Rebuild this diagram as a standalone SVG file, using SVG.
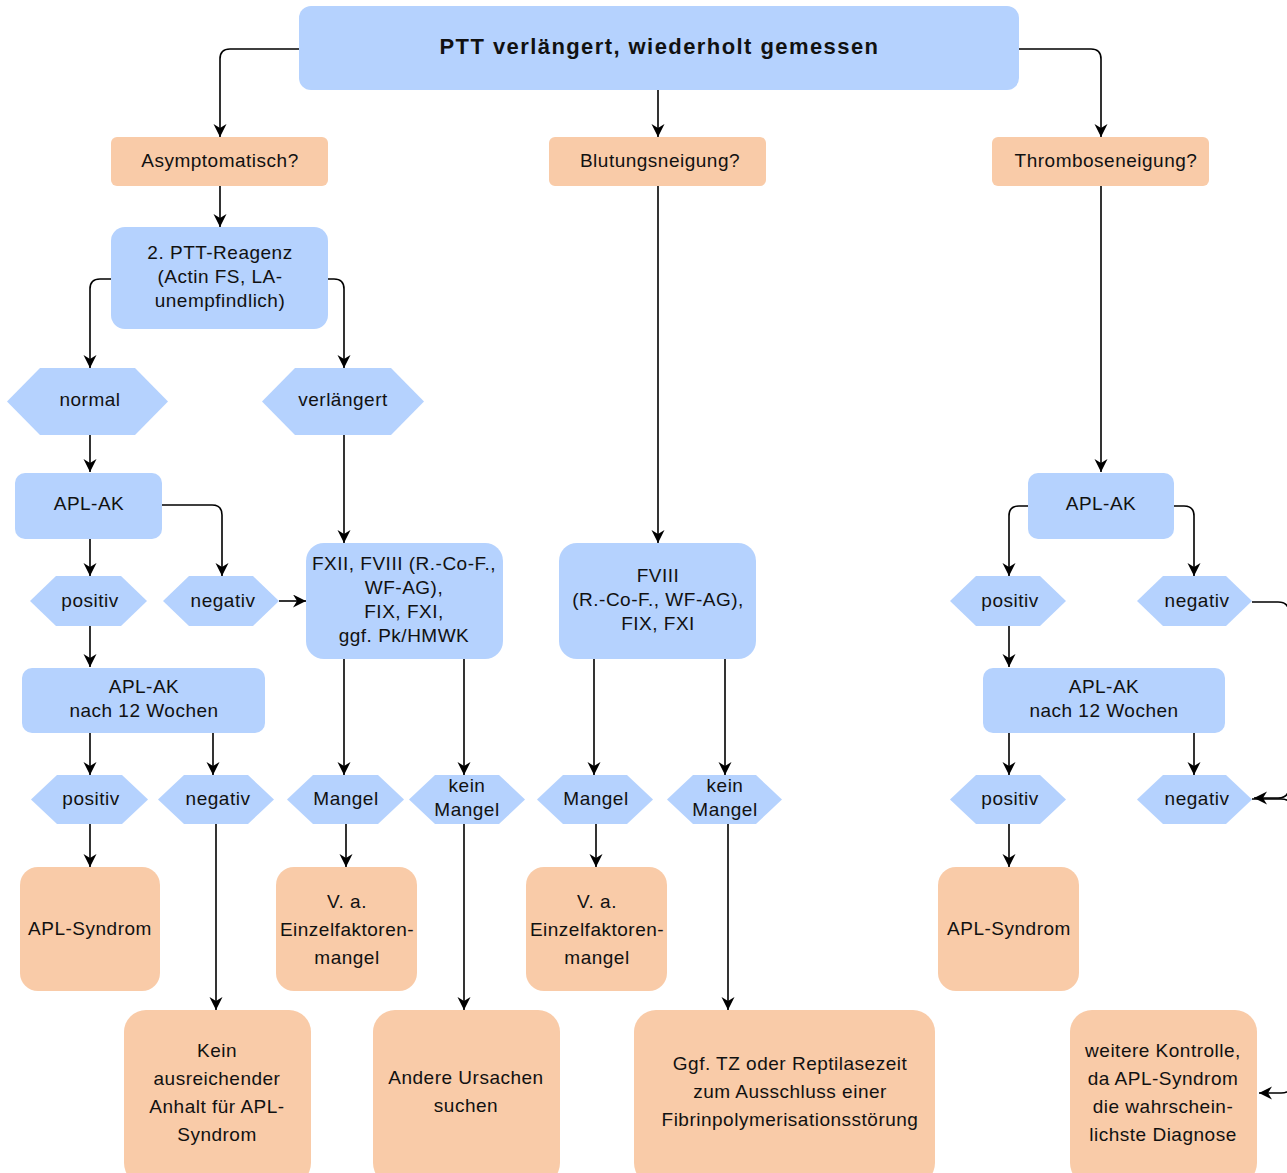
<svg xmlns="http://www.w3.org/2000/svg" width="1287" height="1173" viewBox="0 0 1287 1173">
<defs>
<marker id="arr" markerUnits="userSpaceOnUse" markerWidth="16" markerHeight="14" refX="13" refY="6.5" orient="auto">
<path d="M0,0 L13,6.5 L0,13 L4,6.5 Z" fill="#000"/>
</marker>
</defs>
<style>
.b{fill:#b5d2fe}
.o{fill:#f9cba8}
text{font-family:"Liberation Sans",Arial,sans-serif;font-size:19px;fill:#111;text-anchor:middle;letter-spacing:0.5px}
.t{font-weight:bold;font-size:22px}
#connectors path{fill:none;stroke:#000;stroke-width:1.6;marker-end:url(#arr)}
</style>
<rect width="1287" height="1173" fill="#fff"/>

<g id="connectors">
<path d="M299,49 H230 Q220,49 220,59 V137"/>
<path d="M658,90 V137"/>
<path d="M1019,49 H1091 Q1101,49 1101,59 V137"/>
<path d="M220,186 V227"/>
<path d="M111,279 H100 Q90,279 90,289 V368"/>
<path d="M328,279 H334 Q344,279 344,289 V368"/>
<path d="M90,435 V472"/>
<path d="M162,505 H212 Q222,505 222,515 V576"/>
<path d="M90,539 V576"/>
<path d="M279,601 H306"/>
<path d="M344,435 V543"/>
<path d="M90,626 V667"/>
<path d="M90,733 V775"/>
<path d="M213,733 V775"/>
<path d="M90,824 V867"/>
<path d="M216,824 V1010"/>
<path d="M344,659 V775"/>
<path d="M464,659 V775"/>
<path d="M346,824 V867"/>
<path d="M464,824 V1010"/>
<path d="M658,186 V543"/>
<path d="M594,659 V775"/>
<path d="M725,659 V775"/>
<path d="M596,824 V867"/>
<path d="M728,824 V1010"/>
<path d="M1101,186 V472"/>
<path d="M1028,506 H1019 Q1009,506 1009,516 V576"/>
<path d="M1174,506 H1184 Q1194,506 1194,516 V576"/>
<path d="M1009,626 V667"/>
<path d="M1009,733 V775"/>
<path d="M1194,733 V775"/>
<path d="M1009,824 V867"/>
<path d="M1252,602 H1278 Q1289,602 1289,613 V787 Q1289,798 1278,798 H1254"/>
<path d="M1252,799 H1281 Q1292,799 1292,810 V1082 Q1292,1093 1281,1093 H1259"/>
</g>

<g id="n-top"><rect class="b" x="299" y="6" width="720" height="84" rx="12"/><text class="t" x="659" y="54" textLength="439" lengthAdjust="spacing">PTT verlängert, wiederholt gemessen</text></g>

<g id="n-asym"><rect class="o" x="111" y="137" width="217" height="49" rx="6"/><text x="220" y="167">Asymptomatisch?</text></g>
<g id="n-blut"><rect class="o" x="549" y="137" width="217" height="49" rx="6"/><text x="660" y="167">Blutungsneigung?</text></g>
<g id="n-thromb"><rect class="o" x="992" y="137" width="217" height="49" rx="6"/><text x="1106" y="167">Thromboseneigung?</text></g>

<g id="n-ptt2"><rect class="b" x="111" y="227" width="217" height="102" rx="14"/><text x="220" y="259">2. PTT-Reagenz</text><text x="220" y="283">(Actin FS, LA-</text><text x="220" y="307">unempfindlich)</text></g>

<g id="n-normal"><polygon class="b" points="7,401.5 40,368 135,368 168,401.5 135,435 40,435"/><text x="90" y="406">normal</text></g>
<g id="n-verl"><polygon class="b" points="262,401.5 295,368 391,368 424,401.5 391,435 295,435"/><text x="343" y="406">verlängert</text></g>

<g id="n-aplak1"><rect class="b" x="15" y="473" width="147" height="66" rx="10"/><text x="89" y="510">APL-AK</text></g>

<g id="n-pos1"><polygon class="b" points="30,601 56,576 121,576 147,601 121,626 56,626"/><text x="90" y="607">positiv</text></g>
<g id="n-neg1"><polygon class="b" points="163,601 189,576 253,576 279,601 253,626 189,626"/><text x="223" y="607">negativ</text></g>

<g id="n-fxii"><rect class="b" x="306" y="543" width="197" height="116" rx="18"/><text x="404" y="570">FXII, FVIII (R.-Co-F.,</text><text x="404" y="594">WF-AG),</text><text x="404" y="618">FIX, FXI,</text><text x="404" y="642">ggf. Pk/HMWK</text></g>

<g id="n-fviii"><rect class="b" x="559" y="543" width="197" height="116" rx="18"/><text x="658" y="582">FVIII</text><text x="658" y="606">(R.-Co-F., WF-AG),</text><text x="658" y="630">FIX, FXI</text></g>

<g id="n-apl12a"><rect class="b" x="22" y="668" width="243" height="65" rx="10"/><text x="144" y="693">APL-AK</text><text x="144" y="717">nach 12 Wochen</text></g>

<g id="n-pos2"><polygon class="b" points="31,799.5 57,775 122,775 148,799.5 122,824 57,824"/><text x="91" y="805">positiv</text></g>
<g id="n-neg2"><polygon class="b" points="158,799.5 184,775 248,775 274,799.5 248,824 184,824"/><text x="218" y="805">negativ</text></g>
<g id="n-mangel1"><polygon class="b" points="287,799.5 313,775 378,775 404,799.5 378,824 313,824"/><text x="346" y="805">Mangel</text></g>
<g id="n-kein1"><polygon class="b" points="409,799.5 435,775 499,775 525,799.5 499,824 435,824"/><text x="467" y="792">kein</text><text x="467" y="816">Mangel</text></g>
<g id="n-mangel2"><polygon class="b" points="537,799.5 563,775 627,775 653,799.5 627,824 563,824"/><text x="596" y="805">Mangel</text></g>
<g id="n-kein2"><polygon class="b" points="667,799.5 693,775 756,775 782,799.5 756,824 693,824"/><text x="725" y="792">kein</text><text x="725" y="816">Mangel</text></g>

<g id="n-aplsyn1"><rect class="o" x="20" y="867" width="140" height="124" rx="18"/><text x="90" y="935">APL-Syndrom</text></g>
<g id="n-va1"><rect class="o" x="276" y="867" width="141" height="124" rx="18"/><text x="347" y="908">V. a.</text><text x="347" y="936">Einzelfaktoren-</text><text x="347" y="964">mangel</text></g>
<g id="n-va2"><rect class="o" x="526" y="867" width="141" height="124" rx="18"/><text x="597" y="908">V. a.</text><text x="597" y="936">Einzelfaktoren-</text><text x="597" y="964">mangel</text></g>

<g id="n-kein-anhalt"><rect class="o" x="124" y="1010" width="187" height="175" rx="22"/><text x="217" y="1057">Kein</text><text x="217" y="1085">ausreichender</text><text x="217" y="1113">Anhalt für APL-</text><text x="217" y="1141">Syndrom</text></g>
<g id="n-andere"><rect class="o" x="373" y="1010" width="187" height="175" rx="22"/><text x="466" y="1084">Andere Ursachen</text><text x="466" y="1112">suchen</text></g>
<g id="n-ggf"><rect class="o" x="634" y="1010" width="301" height="175" rx="22"/><text x="790" y="1070">Ggf. TZ oder Reptilasezeit</text><text x="790" y="1098">zum Ausschluss einer</text><text x="790" y="1126">Fibrinpolymerisationsstörung</text></g>

<g id="n-aplak2"><rect class="b" x="1028" y="473" width="146" height="66" rx="10"/><text x="1101" y="510">APL-AK</text></g>
<g id="n-pos3"><polygon class="b" points="950,601 976,576 1040,576 1066,601 1040,626 976,626"/><text x="1010" y="607">positiv</text></g>
<g id="n-neg3"><polygon class="b" points="1137,601 1163,576 1226,576 1252,601 1226,626 1163,626"/><text x="1197" y="607">negativ</text></g>
<g id="n-apl12b"><rect class="b" x="983" y="668" width="242" height="65" rx="10"/><text x="1104" y="693">APL-AK</text><text x="1104" y="717">nach 12 Wochen</text></g>
<g id="n-pos4"><polygon class="b" points="950,799.5 976,775 1040,775 1066,799.5 1040,824 976,824"/><text x="1010" y="805">positiv</text></g>
<g id="n-neg4"><polygon class="b" points="1137,799.5 1163,775 1226,775 1252,799.5 1226,824 1163,824"/><text x="1197" y="805">negativ</text></g>
<g id="n-aplsyn2"><rect class="o" x="938" y="867" width="141" height="124" rx="18"/><text x="1009" y="935">APL-Syndrom</text></g>
<g id="n-weitere"><rect class="o" x="1070" y="1010" width="187" height="175" rx="22"/><text x="1163" y="1057">weitere Kontrolle,</text><text x="1163" y="1085">da APL-Syndrom</text><text x="1163" y="1113">die wahrschein-</text><text x="1163" y="1141">lichste Diagnose</text></g>
</svg>
